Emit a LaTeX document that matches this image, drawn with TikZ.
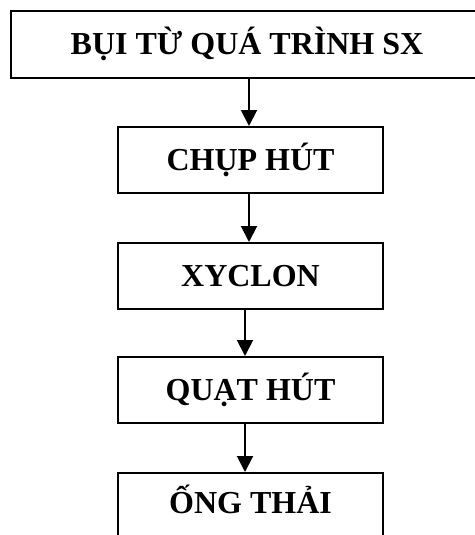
\documentclass[tikz,border=0pt]{standalone}
\usepackage{fontspec}
\setmainfont{Liberation Serif}
\usetikzlibrary{arrows.meta}
\tikzset{
  stagebox/.style={draw, line width=2pt, rectangle, minimum width=265pt, minimum height=66pt,
    inner sep=0pt, font=\fontsize{32}{32}\selectfont\bfseries, text height=21pt, text depth=0pt},
  flow/.style={line width=2pt, -{Triangle[length=16pt,width=16pt]}}
}
\begin{document}
\begin{tikzpicture}[x=1pt,y=-1pt]
  \useasboundingbox (0,0) rectangle (474,535);
  \node[stagebox, minimum width=472pt, minimum height=67pt] (src) at (247,44.5) {BỤI TỪ QUÁ TRÌNH SX};
  \node[stagebox] (hood) at (250.5,160) {CHỤP HÚT};
  \node[stagebox] (cyc) at (250.5,276) {XYCLON};
  \node[stagebox] (fan) at (250.5,390) {QUẠT HÚT};
  \node[stagebox, text height=15pt] (stack) at (250.5,506) {ỐNG THẢI};
  \draw[flow] ([xshift=2pt]src.south) -- ([xshift=-1.5pt]hood.north);
  \draw[flow] ([xshift=-1.5pt]hood.south) -- ([xshift=-1.5pt]cyc.north);
  \draw[flow] ([xshift=-5.5pt]cyc.south) -- ([xshift=-5.5pt]fan.north);
  \draw[flow] ([xshift=-5.5pt]fan.south) -- ([xshift=-5.5pt]stack.north);
\end{tikzpicture}
\end{document}
